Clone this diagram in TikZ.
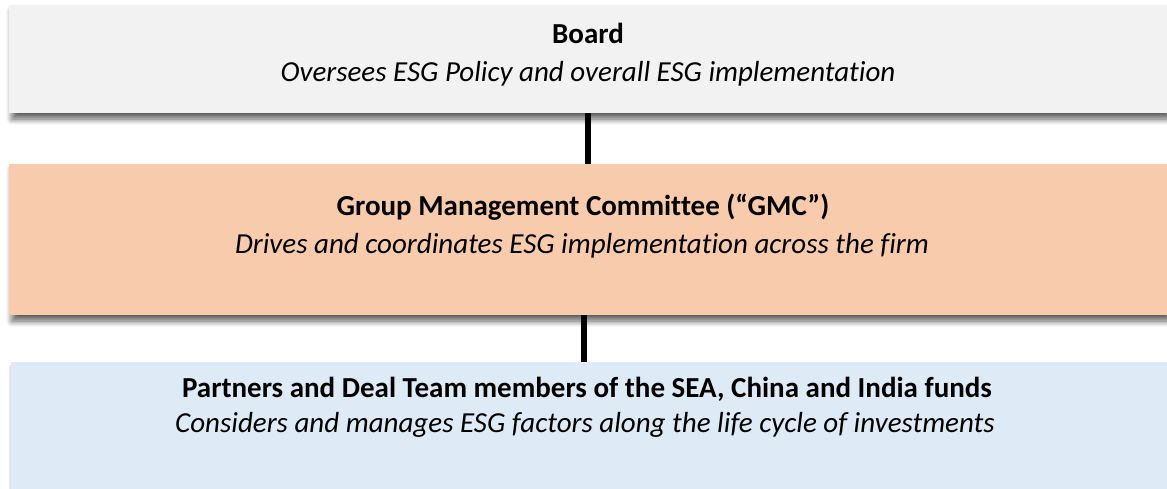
\documentclass[tikz,border=0pt]{standalone}
\usepackage{fontspec}
\setmainfont{Carlito}[Ligatures={NoCommon}]
\usetikzlibrary{shadows.blur}

\definecolor{boardgray}{HTML}{F2F2F2}
\definecolor{gmcpeach}{HTML}{F8CBAD}
\definecolor{dealblue}{HTML}{DEEAF6}

\tikzset{
  tier/.style={rectangle, inner sep=0pt,
    blur shadow={shadow xshift=3pt, shadow yshift=-6pt,
      shadow blur radius=6pt, shadow blur steps=10, shadow opacity=65}},
  title/.style={anchor=base, font=\fontsize{29}{34}\selectfont\bfseries},
  remit/.style={anchor=base, font=\fontsize{29}{34}\selectfont\itshape},
  link/.style={line width=6pt, black},
}

\begin{document}
\begin{tikzpicture}[x=1pt, y=-1pt]
  \useasboundingbox (0,0) rectangle (1167,489);

  % Tiers
  \node[tier, fill=boardgray, minimum width=1158pt, minimum height=108pt] (board) at (588,59) {};
  \node[tier, fill=gmcpeach, minimum width=1158pt, minimum height=151pt] (gmc) at (588,239.5) {};
  \node[tier, fill=dealblue, minimum width=1156pt, minimum height=127pt] (partners) at (589,425.5) {};

  % Reporting lines
  \draw[link] (board.south) -- (gmc.north);
  \draw[link] ([xshift=-4pt]gmc.south) -- ([xshift=-5pt]partners.north);

  % Labels
  \node[title] (boardtitle) at (588,44) {Board};
  \node[remit] (boardremit) at (588,82) {Oversees ESG Policy and overall ESG implementation};

  \node[title] (gmctitle) at (583,215) {Group Management Committee (``GMC'')};
  \node[remit] (gmcremit) at (582,253) {Drives and coordinates ESG implementation across the firm};

  \node[title] (partnerstitle) at (587,397) {Partners and Deal Team members of the SEA, China and India funds};
  \node[remit] (partnersremit) at (585,432) {Considers and manages ESG factors along the life cycle of investments};
\end{tikzpicture}
\end{document}
